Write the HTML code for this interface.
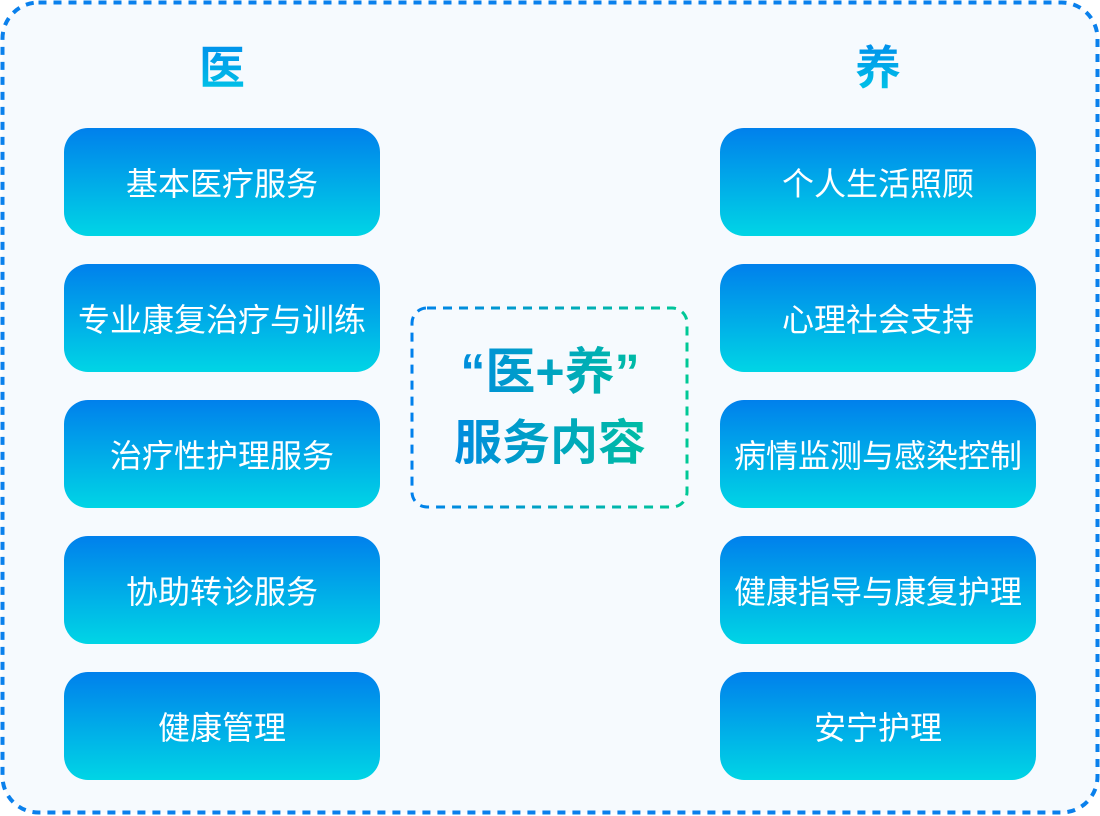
<!DOCTYPE html>
<html><head><meta charset="utf-8"><style>
body{margin:0;width:1100px;height:816px;background:#fff;position:relative;overflow:hidden;font-family:"Liberation Sans","Noto Sans CJK SC",sans-serif}
.b{position:absolute;width:316px;height:108px;border-radius:24px;background:linear-gradient(#0080ec,#00d5e5);color:#fff;font-size:32px;display:flex;align-items:center;justify-content:center;white-space:nowrap;letter-spacing:0px}
.t{position:absolute;font-size:46px;font-weight:bold;background:linear-gradient(#0088ec,#00cde6);-webkit-background-clip:text;background-clip:text;color:transparent;width:100px;text-align:center;top:36px;line-height:64px}
.c{position:absolute;left:411px;width:278px;text-align:center;font-weight:bold;background:linear-gradient(90deg,#0080ec,#00c896);-webkit-background-clip:text;background-clip:text;color:transparent;white-space:nowrap}
</style></head><body>
<svg width="1100" height="816" style="position:absolute;left:0;top:0">
<defs><linearGradient id="g" x1="0" x2="1" y1="0" y2="0"><stop offset="0" stop-color="#0080ec"/><stop offset="1" stop-color="#00c896"/></linearGradient></defs>
<rect x="2.5" y="2.5" width="1095" height="810" rx="36" fill="#f6fafe" stroke="#0a80ec" stroke-width="4" stroke-dasharray="8 7"/>
<rect x="412" y="308" width="275" height="199" rx="15" fill="none" stroke="url(#g)" stroke-width="3" stroke-dasharray="9 7"/>
</svg>
<div class="t" style="left:172px">医</div>
<div class="t" style="left:828px">养</div>
<div class="c" style="top:340px;font-size:50px;line-height:64px">“医+养”</div>
<div class="c" style="top:412px;font-size:48px;line-height:64px">服务内容</div>
<div class="b" style="left:64px;top:128px">基本医疗服务</div>
<div class="b" style="left:64px;top:264px">专业康复治疗与训练</div>
<div class="b" style="left:64px;top:400px">治疗性护理服务</div>
<div class="b" style="left:64px;top:536px">协助转诊服务</div>
<div class="b" style="left:64px;top:672px">健康管理</div>
<div class="b" style="left:720px;top:128px">个人生活照顾</div>
<div class="b" style="left:720px;top:264px">心理社会支持</div>
<div class="b" style="left:720px;top:400px">病情监测与感染控制</div>
<div class="b" style="left:720px;top:536px">健康指导与康复护理</div>
<div class="b" style="left:720px;top:672px">安宁护理</div>
</body></html>
